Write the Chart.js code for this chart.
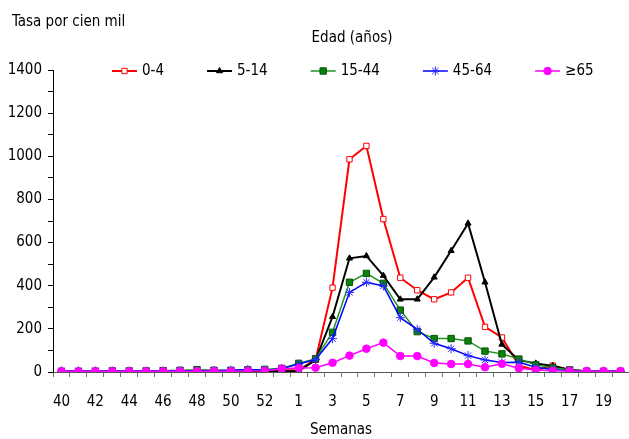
<!DOCTYPE html>
<html>
<head>
<meta charset="utf-8">
<script src="https://cdn.jsdelivr.net/npm/chart.js@4/dist/chart.umd.min.js"></script>
<style>
  body { margin: 0; background: #fff; }
  canvas { display: block; }
</style>
</head>
<body>
<canvas id="chart" width="629" height="439"></canvas>
<script>
// semanas epidemiológicas: 40..53 y 1..20
const weeks = [40, 41, 42, 43, 44, 45, 46, 47, 48, 49, 50, 51, 52, 53,
  1, 2, 3, 4, 5, 6, 7, 8, 9, 10, 11, 12, 13, 14, 15, 16, 17, 18, 19, 20];

const age0to4 = [2, 1, 1, 2, 1, 2, 1, 2, 3, 3, 3, 4, 5, 8,
  9, 57, 391, 986, 1048, 709, 437, 379, 337, 369, 437, 209, 160, 30, 8, 30, 8, 3, 2, 2];
const age5to14 = [1, 1, 1, 1, 1, 1, 1, 1, 2, 2, 2, 3, 3, 4,
  5, 55, 256, 527, 538, 447, 337, 337, 439, 562, 689, 416, 128, 55, 40, 28, 10, 3, 2, 2];
const age15to44 = [3, 3, 4, 5, 5, 5, 6, 8, 11, 8, 8, 10, 12, 17,
  40, 62, 184, 416, 457, 411, 287, 187, 155, 155, 144, 97, 84, 60, 33, 20, 10, 4, 3, 3];
const age45to64 = [5, 5, 5, 5, 5, 5, 5, 6, 6, 7, 8, 12, 8, 15,
  37, 58, 155, 369, 416, 399, 252, 198, 133, 108, 76, 56, 44, 45, 22, 12, 5, 3, 3, 3];
const age65plus = [3, 3, 3, 3, 3, 3, 3, 4, 4, 4, 4, 5, 6, 15,
  18, 20, 43, 76, 108, 136, 74, 74, 42, 37, 37, 22, 38, 17, 9, 6, 5, 4, 4, 4];

const yTicks = [0, 200, 400, 600, 800, 1000, 1200, 1400];

const FONT = '"DejaVu Sans Condensed", "DejaVu Sans", sans-serif';
const FONT_SIZE = 15;

// títulos y leyenda dibujados a mano (la leyenda está a la altura del 1400)
const headerPlugin = {
  id: 'header',
  afterDraw(chart) {
    const ctx = chart.ctx;
    ctx.save();
    ctx.font = FONT_SIZE + 'px ' + FONT;
    ctx.fillStyle = '#000';
    ctx.textBaseline = 'middle';
    ctx.textAlign = 'left';
    ctx.fillText('Tasa por cien mil', 12, 22);
    ctx.textAlign = 'center';
    ctx.fillText('Edad (años)', 352, 38);

    let x = 112;
    const y = 71;
    ctx.textAlign = 'left';
    chart.data.datasets.forEach(ds => {
      ctx.strokeStyle = ds.borderColor;
      ctx.lineWidth = ds.borderWidth;
      ctx.beginPath();
      ctx.moveTo(x, y);
      ctx.lineTo(x + 25, y);
      ctx.stroke();
      ctx.fillStyle = ds.pointBackgroundColor;
      ctx.strokeStyle = ds.pointBorderColor;
      ctx.lineWidth = ds.pointBorderWidth;
      Chart.helpers.drawPoint(ctx, {
        pointStyle: ds.pointStyle,
        radius: ds.pointRadius,
        borderWidth: ds.pointBorderWidth,
        rotation: 0
      }, x + 12.5, y);
      x += 30;
      ctx.fillStyle = '#000';
      ctx.fillText(ds.label, x, y);
      x += ctx.measureText(ds.label).width + 43;
    });
    ctx.restore();
  }
};

function series(label, values, color, style, opts) {
  return Object.assign({
    label: label,
    data: values,
    borderColor: color,
    borderWidth: 1.5,
    pointStyle: style,
    pointRadius: 3.5,
    pointBackgroundColor: color,
    pointBorderColor: color,
    pointBorderWidth: 1,
    tension: 0,
    fill: false
  }, opts || {});
}

new Chart(document.getElementById('chart'), {
  type: 'line',
  data: {
    labels: weeks,
    datasets: [
      series('0-4', age0to4, '#ff0000', 'rect', { borderWidth: 2, pointRadius: 3.8, pointBackgroundColor: '#ffffff', order: 4 }),
      series('5-14', age5to14, '#000000', 'triangle', { borderWidth: 2, pointRadius: 3.5, order: 3 }),
      series('15-44', age15to44, '#1f961f', 'rect', { pointRadius: 4.5, pointBackgroundColor: '#0b820b', pointBorderColor: '#075207', order: 2 }),
      series('45-64', age45to64, '#0000ff', 'star', { pointRadius: 4.5, pointBorderColor: '#2a2aff', order: 1 }),
      series('≥65', age65plus, '#ff00ff', 'circle', { pointRadius: 3.8, order: 0 })
    ]
  },
  options: {
    responsive: false,
    devicePixelRatio: 1,
    animation: false,
    layout: { autoPadding: false, padding: { top: 70, left: 0, right: 0, bottom: 0 } },
    plugins: {
      legend: { display: false },
      tooltip: { enabled: false }
    },
    scales: {
      x: {
        type: 'category',
        offset: true,
        grid: { offset: true, drawOnChartArea: false, tickLength: 5, color: '#777' },
        border: { color: '#555', width: 1 },
        ticks: {
          autoSkip: false,
          maxRotation: 0,
          padding: 16,
          color: '#000',
          font: { family: FONT, size: FONT_SIZE },
          callback: function (val, idx) { return idx % 2 === 0 ? this.getLabelForValue(val) : ''; }
        },
        title: {
          display: true,
          text: 'Semanas',
          color: '#000',
          padding: { top: 0, bottom: 0 },
          font: { family: FONT, size: FONT_SIZE }
        },
        afterFit: s => {
          s.height = 67;
          s.paddingLeft = 0;
          s.paddingRight = 0;
        }
      },
      y: {
        min: yTicks[0],
        max: yTicks[yTicks.length - 1],
        grid: { drawOnChartArea: false, tickLength: 5, color: '#000' },
        border: { color: '#000', width: 1 },
        ticks: {
          stepSize: 100,
          padding: 6,
          color: '#000',
          font: { family: FONT, size: FONT_SIZE },
          callback: v => yTicks.includes(v) ? v : ''
        },
        afterFit: s => { s.width = 53; }
      }
    }
  },
  plugins: [headerPlugin]
});
</script>
</body>
</html>
